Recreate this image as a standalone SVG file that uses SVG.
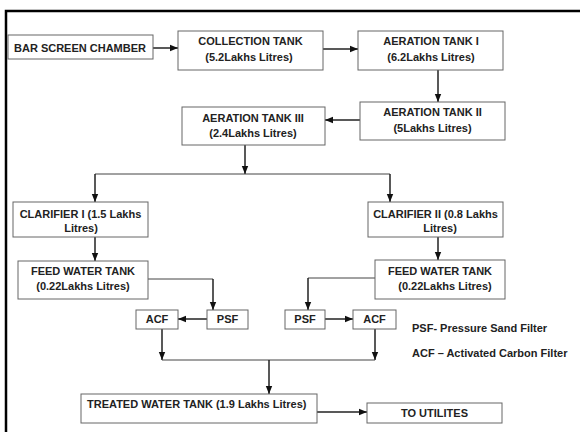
<svg xmlns="http://www.w3.org/2000/svg" width="580" height="432" viewBox="0 0 580 432">
<style>
.box{fill:#fff;stroke:#666;stroke-width:1}
.t{font-family:"Liberation Sans",Arial,sans-serif;font-weight:bold;font-size:11px;fill:#222}
.c{text-anchor:middle}
.ln{fill:none;stroke:#222;stroke-width:1.5}
.thin{fill:none;stroke:#444;stroke-width:1}
</style>
<defs>
<marker id="ah" markerUnits="userSpaceOnUse" markerWidth="8" markerHeight="8" viewBox="0 0 8 8" refX="8" refY="4" orient="auto">
<path d="M0,0.8 L8,4 L0,7.2 Z" fill="#111"/>
</marker>
</defs>
<rect width="580" height="432" fill="#fff"/>
<g id="frame">
<path d="M6,432 V11 H580" fill="none" stroke="#000" stroke-width="2.5"/>
</g>
<g id="connectors">
<path class="ln" d="M153,48 H178" marker-end="url(#ah)"/>
<path class="ln" d="M323,49 H358" marker-end="url(#ah)"/>
<path class="ln" d="M438,70 V102" marker-end="url(#ah)"/>
<path class="ln" d="M360,120 H325" marker-end="url(#ah)"/>
<path class="ln" d="M245,145 V174" marker-end="url(#ah)"/>
<path class="thin" d="M95,174 H390"/>
<path class="ln" d="M95,174 V202" marker-end="url(#ah)"/>
<path class="ln" d="M390,174 V202" marker-end="url(#ah)"/>
<path class="ln" d="M95,237 V261" marker-end="url(#ah)"/>
<path class="ln" d="M438,237 V260" marker-end="url(#ah)"/>
<path class="thin" d="M148,279 H213"/>
<path class="ln" d="M213,279 V310" marker-end="url(#ah)"/>
<path class="ln" d="M207,319 H178" marker-end="url(#ah)"/>
<path class="thin" d="M375,278 H308"/>
<path class="ln" d="M308,278 V310" marker-end="url(#ah)"/>
<path class="ln" d="M325,319 H353" marker-end="url(#ah)"/>
<path class="ln" d="M162,329 V360" marker-end="url(#ah)"/>
<path class="ln" d="M375,329 V360" marker-end="url(#ah)"/>
<path class="thin" d="M162,360 H375"/>
<path class="ln" d="M269,360 V394" marker-end="url(#ah)"/>
<path class="ln" d="M317,412 H367" marker-end="url(#ah)"/>
</g>
<g id="bar-screen">
<rect class="box" x="8" y="35" width="145" height="24"/>
<text class="t" x="14" y="52">BAR SCREEN CHAMBER</text>
</g>
<g id="collection-tank">
<rect class="box" x="178" y="31" width="145" height="39"/>
<text class="t c" x="250.5" y="45">COLLECTION TANK</text>
<text class="t c" x="249" y="61">(5.2Lakhs Litres)</text>
</g>
<g id="aeration-1">
<rect class="box" x="358" y="31" width="145" height="39"/>
<text class="t c" x="431" y="45">AERATION TANK I</text>
<text class="t c" x="431" y="61">(6.2Lakhs Litres)</text>
</g>
<g id="aeration-2">
<rect class="box" x="360" y="102" width="145" height="38"/>
<text class="t c" x="432.5" y="116">AERATION TANK II</text>
<text class="t c" x="432.5" y="132">(5Lakhs Litres)</text>
</g>
<g id="aeration-3">
<rect class="box" x="182" y="107" width="143" height="38"/>
<text class="t c" x="253" y="122">AERATION TANK III</text>
<text class="t c" x="253" y="137">(2.4Lakhs Litres)</text>
</g>
<g id="clarifier-1">
<rect class="box" x="13" y="202" width="135" height="35"/>
<text class="t c" x="80.5" y="218">CLARIFIER I (1.5 Lakhs</text>
<text class="t c" x="81" y="232">Litres)</text>
</g>
<g id="clarifier-2">
<rect class="box" x="368" y="202" width="135" height="35"/>
<text class="t c" x="435.5" y="218">CLARIFIER II (0.8 Lakhs</text>
<text class="t c" x="440" y="232">Litres)</text>
</g>
<g id="feed-1">
<rect class="box" x="18" y="261" width="130" height="38"/>
<text class="t c" x="83" y="275">FEED WATER TANK</text>
<text class="t c" x="83" y="290">(0.22Lakhs Litres)</text>
</g>
<g id="feed-2">
<rect class="box" x="375" y="260" width="130" height="39"/>
<text class="t c" x="440" y="275">FEED WATER TANK</text>
<text class="t c" x="445" y="290">(0.22Lakhs Litres)</text>
</g>
<g id="psf-1">
<rect class="box" x="207" y="310" width="41" height="19"/>
<text class="t c" x="227.5" y="323">PSF</text>
</g>
<g id="acf-1">
<rect class="box" x="136" y="310" width="42" height="19"/>
<text class="t c" x="157" y="323">ACF</text>
</g>
<g id="psf-2">
<rect class="box" x="285" y="310" width="40" height="19"/>
<text class="t c" x="305" y="323">PSF</text>
</g>
<g id="acf-2">
<rect class="box" x="353" y="310" width="43" height="19"/>
<text class="t c" x="374.5" y="323">ACF</text>
</g>
<g id="treated-tank">
<rect class="box" x="81" y="394" width="236" height="29"/>
<text class="t" x="87" y="408">TREATED WATER TANK (1.9 Lakhs Litres)</text>
</g>
<g id="utilities">
<rect class="box" x="367" y="403" width="135" height="20"/>
<text class="t c" x="434.5" y="417">TO UTILITES</text>
</g>
<g id="legend">
<text class="t" x="412" y="332">PSF- Pressure Sand Filter</text>
<text class="t" x="412" y="357">ACF – Activated Carbon Filter</text>
</g>
</svg>
